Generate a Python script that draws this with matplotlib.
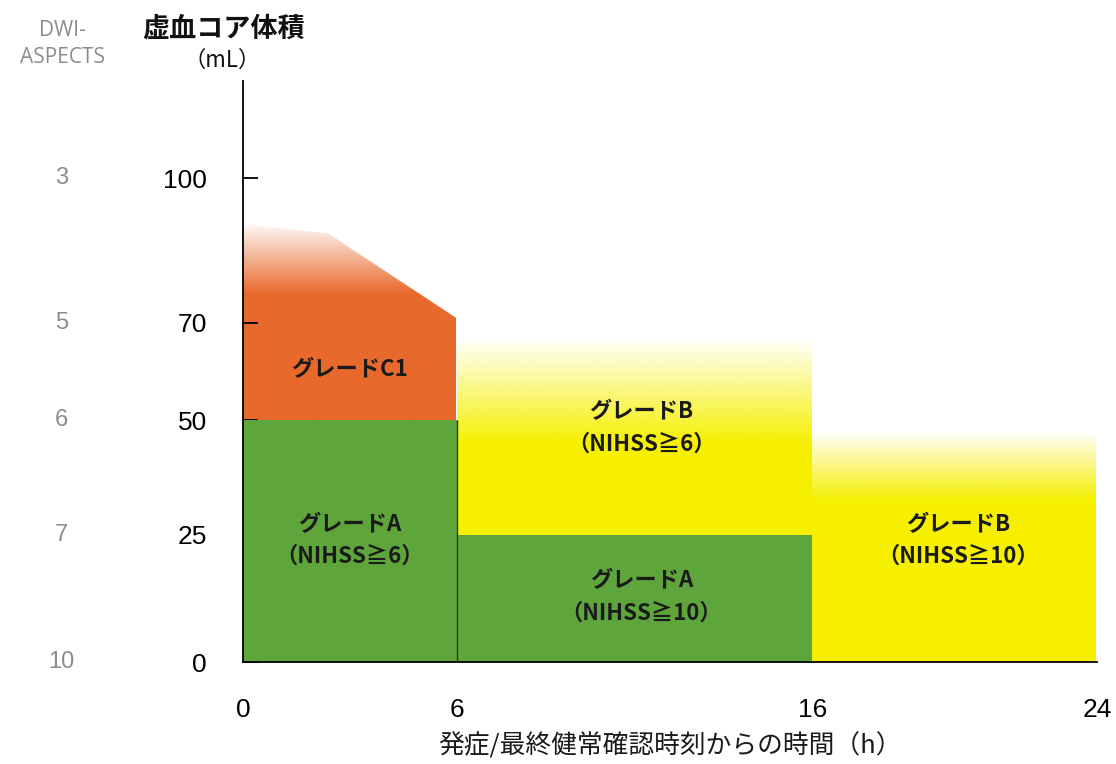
import matplotlib
matplotlib.use("Agg")
import matplotlib.pyplot as plt
import numpy as np
from matplotlib.patches import Polygon

plt.rcParams['font.family'] = ['Noto Sans CJK JP', 'DejaVu Sans']
NUM_FONT = ['Liberation Sans Narrow', 'Liberation Sans', 'DejaVu Sans']

# data
core_ticks = [0, 25, 50, 70, 100]
aspects = ['10', '7', '6', '5', '3']
time_ticks = [0, 6, 16, 24]

# grade A (green)
a_x = [(0, 6), (6, 16)]
a_top = [50, 25]
a_text = ['グレードA\n（NIHSS≧6）', 'グレードA\n（NIHSS≧10）']
a_text_pos = [(3, 24), (11.2, 12.8)]

# grade C1 (orange), upper edge fades out
c1_x = [0, 2.4, 6]
c1_y = [90.5, 88.5, 71]
c1_base = 50
c1_fade = (76, 91)      # fully opaque .. transparent
c1_text_pos = (3, 60.3)

# grade B (yellow), upper edge fades out
b_x = [(6, 16), (16, 24)]
b_base = [25, 0]
b_top = [67, 47.5]
b_fade = [(45, 67), (32.5, 47.5)]
b_text = ['グレードB\n（NIHSS≧6）', 'グレードB\n（NIHSS≧10）']
b_text_pos = [(11.2, 48.3), (20.1, 24)]

GREEN = '#5ea63c'
ORANGE = '#e8692c'
YELLOW = '#f6f000'

# piecewise mapping so the ticks sit where the original has them
scale_v = [0, 25, 50, 70, 100, 120]
scale_p = [0, 127, 242, 339, 484, 581]
def fwd(v):
    return np.interp(v, scale_v, scale_p)
def inv(p):
    return np.interp(p, scale_p, scale_v)

fig = plt.figure(figsize=(11.16, 7.64), dpi=100)
ax = fig.add_axes([243/1116, 102/764, 854/1116, 581/764])
ax.set_yscale('function', functions=(fwd, inv))
ax.set_xlim(0, 24)
ax.set_ylim(0, 120)


def fade_fill(poly_xy, color, lo, hi, y0, y1, x0, x1):
    ys = np.linspace(y0, y1, 300)
    alpha = np.clip((hi - ys) / (hi - lo), 0, 1)
    rgba = np.zeros((300, 2, 4))
    rgba[..., :3] = matplotlib.colors.to_rgb(color)
    rgba[..., 3] = alpha[:, None]
    im = ax.imshow(rgba, extent=(x0, x1, y0, y1), origin='lower',
                   aspect='auto', interpolation='bilinear', zorder=1)
    patch = Polygon(poly_xy, closed=True, transform=ax.transData,
                    facecolor='none', edgecolor='none')
    ax.add_patch(patch)
    im.set_clip_path(patch)


# C1
poly = [(c1_x[0], c1_base)] + list(zip(c1_x, c1_y)) + [(c1_x[-1], c1_base)]
fade_fill(poly, ORANGE, c1_fade[0], c1_fade[1], c1_base, max(c1_y) + 1,
          c1_x[0], c1_x[-1])

# B blocks
for (x0, x1), base, top, (lo, hi) in zip(b_x, b_base, b_top, b_fade):
    poly = [(x0, base), (x0, top), (x1, top), (x1, base)]
    fade_fill(poly, YELLOW, lo, hi, base, top, x0, x1)

# A blocks
for (x0, x1), top in zip(a_x, a_top):
    ax.fill_between([x0, x1], 0, top, color=GREEN, lw=0, zorder=2)
ax.vlines(a_x[1][0], 0, a_top[0], color='#2a3a20', lw=1, zorder=3)

# labels
lab = dict(ha='center', va='center', fontsize=16, fontweight='bold',
           linespacing=1.5, color='#1a1a1a', zorder=5)
ax.text(*c1_text_pos, 'グレードC1', **lab)
for t, p in zip(a_text, a_text_pos):
    ax.text(*p, t, **lab)
for t, p in zip(b_text, b_text_pos):
    ax.text(*p, t, **lab)

# axes styling
for s in ['top', 'right']:
    ax.spines[s].set_visible(False)
ax.spines['left'].set_linewidth(1.3)
ax.spines['bottom'].set_linewidth(1.3)
ax.set_yticks(core_ticks)
ax.set_yticklabels([str(v) for v in core_ticks], family=NUM_FONT, fontsize=19)
ax.tick_params(axis='y', direction='in', length=11, width=1.3, pad=26)
ax.set_xticks(time_ticks)
ax.set_xticklabels([str(v) for v in time_ticks], family=NUM_FONT, fontsize=19)
ax.tick_params(axis='x', length=0, pad=26)
ax.set_xlabel('発症/最終健常確認時刻からの時間（h）', fontsize=18.5,
              labelpad=8, color='#1a1a1a')

# DWI-ASPECTS column
for v, a in zip(core_ticks, aspects):
    ax.text(-5.1, v, a, ha='center', va='center', fontsize=17,
            family=NUM_FONT, color='#8c8c8c')
fig.text(62/1116, 1 - 44/764, 'DWI-\nASPECTS', ha='center', va='center',
         fontsize=15, color='#8c8c8c', linespacing=1.35,
         family=['Open Sans', 'DejaVu Sans'])
fig.text(224/1116, 1 - 29/764, '虚血コア体積', ha='center', va='center',
         fontsize=19.5, fontweight='bold', color='#111111')
fig.text(222/1116, 1 - 60/764, '（mL）', ha='center', va='center',
         fontsize=16, color='#111111')

fig.savefig('out.png', dpi=100)
